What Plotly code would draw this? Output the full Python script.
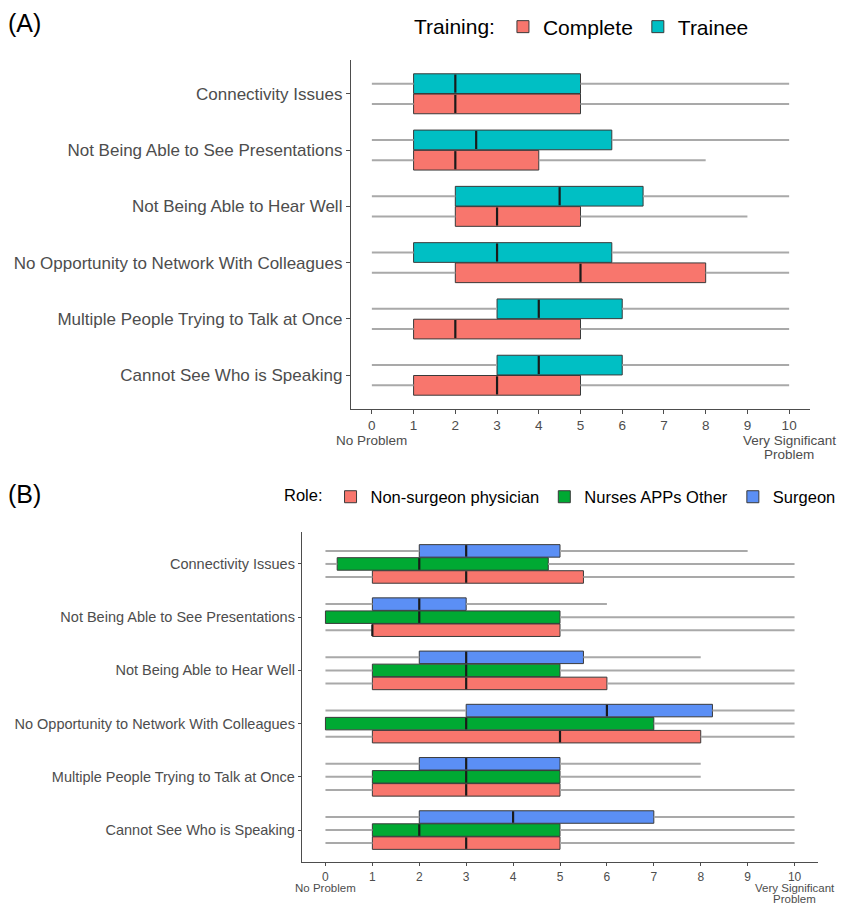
import plotly.graph_objects as go

categories = [
    "Connectivity Issues",
    "Not Being Able to See Presentations",
    "Not Being Able to Hear Well",
    "No Opportunity to Network With Colleagues",
    "Multiple People Trying to Talk at Once",
    "Cannot See Who is Speaking",
]

# Panel A (Training) - five-number summaries per category
a_complete_min = [0, 0, 0, 0, 0, 0]
a_complete_q1 = [1, 1, 2, 2, 1, 1]
a_complete_med = [2, 2, 3, 5, 2, 3]
a_complete_q3 = [5, 4, 5, 8, 5, 5]
a_complete_max = [10, 8, 9, 10, 10, 10]

a_trainee_min = [0, 0, 0, 0, 0, 0]
a_trainee_q1 = [1, 1, 2, 1, 3, 3]
a_trainee_med = [2, 2.5, 4.5, 3, 4, 4]
a_trainee_q3 = [5, 5.75, 6.5, 5.75, 6, 6]
a_trainee_max = [10, 10, 10, 10, 10, 10]

# Panel B (Role)
b_nonsurg_min = [0, 0, 0, 0, 0, 0]
b_nonsurg_q1 = [1, 1, 1, 1, 1, 1]
b_nonsurg_med = [3, 1, 3, 5, 3, 3]
b_nonsurg_q3 = [5.5, 5, 6, 8, 5, 5]
b_nonsurg_max = [10, 10, 10, 10, 10, 10]

b_nurses_min = [0, 0, 0, 0, 0, 0]
b_nurses_q1 = [0.25, 0, 1, 0, 1, 1]
b_nurses_med = [2, 2, 3, 3, 3, 2]
b_nurses_q3 = [4.75, 5, 5, 7, 5, 5]
b_nurses_max = [10, 10, 10, 10, 8, 10]

b_surgeon_min = [0, 0, 0, 0, 0, 0]
b_surgeon_q1 = [2, 1, 2, 3, 2, 2]
b_surgeon_med = [3, 2, 3, 6, 3, 4]
b_surgeon_q3 = [5, 3, 5.5, 8.25, 5, 7]
b_surgeon_max = [9, 6, 8, 10, 8, 10]

x_ticks = [0, 1, 2, 3, 4, 5, 6, 7, 8, 9, 10]
x_ticktext = ["0", "1", "2", "3", "4", "5", "6", "7", "8", "9", "10"]
scale_low_label = ["No Problem"]
scale_high_label = ["Very Significant", "Problem"]

FONT = "Liberation Sans, Arial, sans-serif"
n = len(categories)
centers = [n - 1 - i for i in range(n)]  # top category highest

fig = go.Figure()


def add_group(xa, ya, offset, width, mn, q1, med, q3, mx, color, name, legend):
    ys = [c + offset for c in centers]
    # whiskers (outside the box)
    wx, wy = [], []
    for y, a, b, c, d in zip(ys, mn, q1, q3, mx):
        wx += [a, b, None, c, d, None]
        wy += [y, y, None, y, y, None]
    fig.add_trace(go.Scatter(x=wx, y=wy, mode="lines", xaxis=xa, yaxis=ya,
                             line=dict(color="#a9a9a9", width=2),
                             showlegend=False, hoverinfo="skip"))
    fig.add_trace(go.Bar(y=ys, x=[b - a for a, b in zip(q1, q3)], base=q1,
                         orientation="h", width=width, xaxis=xa, yaxis=ya,
                         marker=dict(color=color, line=dict(color="#3a3a3a", width=1)),
                         name=name, legend=legend))
    # median segments spanning the box height
    mx_, my_ = [], []
    h = width / 2 * 0.92
    for y, m in zip(ys, med):
        mx_ += [m, m, None]
        my_ += [y - h, y + h, None]
    fig.add_trace(go.Scatter(x=mx_, y=my_, mode="lines", xaxis=xa, yaxis=ya,
                             line=dict(color="#1a1a1a", width=2.2),
                             showlegend=False, hoverinfo="skip"))


# Panel A
add_group("x", "y", -0.18, 0.35, a_complete_min, a_complete_q1, a_complete_med,
          a_complete_q3, a_complete_max, "#F8766D", "Complete", "legend")
add_group("x", "y", 0.18, 0.35, a_trainee_min, a_trainee_q1, a_trainee_med,
          a_trainee_q3, a_trainee_max, "#00BFC4", "Trainee", "legend")

# Panel B
add_group("x2", "y2", -0.245, 0.235, b_nonsurg_min, b_nonsurg_q1, b_nonsurg_med,
          b_nonsurg_q3, b_nonsurg_max, "#F8766D", "Non-surgeon physician", "legend2")
add_group("x2", "y2", 0.0, 0.235, b_nurses_min, b_nurses_q1, b_nurses_med,
          b_nurses_q3, b_nurses_max, "#00A933", "Nurses APPs Other", "legend2")
add_group("x2", "y2", 0.245, 0.235, b_surgeon_min, b_surgeon_q1, b_surgeon_med,
          b_surgeon_q3, b_surgeon_max, "#5B8FF5", "Surgeon", "legend2")

W, H = 843, 906


def xdom(l, r):
    return [l / W, r / W]


def ydom(t, b):
    return [1 - b / H, 1 - t / H]


def py(y):
    return 1 - y / H


axis_common = dict(showgrid=False, zeroline=False, showline=True, linecolor="#4d4d4d",
                   linewidth=1.3, ticks="outside", tickcolor="#4d4d4d",
                   mirror=False, automargin=False, tickangle=0)

annotations = [
    dict(text="(A)", x=6 / W, y=py(23), xref="paper", yref="paper",
         xanchor="left", yanchor="middle", showarrow=False,
         font=dict(size=25, color="black")),
    dict(text="(B)", x=6 / W, y=py(494), xref="paper", yref="paper",
         xanchor="left", yanchor="middle", showarrow=False,
         font=dict(size=25, color="black")),
]

# secondary scale labels under the end ticks
for xr, size, rows in (("x", 13.5, (440, 454)), ("x2", 11.5, (888, 899))):
    annotations.append(dict(text=scale_low_label[0], x=x_ticks[0], xref=xr, y=py(rows[0]),
                            yref="paper", xanchor="center", yanchor="middle",
                            showarrow=False, font=dict(size=size, color="#4d4d4d")))
    for txt, yy in zip(scale_high_label, rows):
        annotations.append(dict(text=txt, x=x_ticks[-1], xref=xr, y=py(yy),
                                yref="paper", xanchor="center", yanchor="middle",
                                showarrow=False, font=dict(size=size, color="#4d4d4d")))

fig.update_layout(
    width=W, height=H,
    margin=dict(l=0, r=0, t=0, b=0),
    plot_bgcolor="white", paper_bgcolor="white",
    barmode="overlay",
    font=dict(family=FONT, color="#4d4d4d"),
    xaxis=dict(domain=xdom(351, 810), range=[-0.5, 10.5], tickvals=x_ticks,
               ticktext=x_ticktext, tickfont=dict(size=13.5, color="#4d4d4d"),
               ticklen=4, anchor="y", **axis_common),
    yaxis=dict(domain=ydom(60, 409), range=[-0.6, n - 0.4], tickvals=centers,
               ticktext=categories, tickfont=dict(size=17, color="#4d4d4d"),
               ticklen=4, anchor="x", **axis_common),
    xaxis2=dict(domain=xdom(302, 818), range=[-0.5, 10.5], tickvals=x_ticks,
                ticktext=x_ticktext, tickfont=dict(size=12, color="#4d4d4d"),
                ticklen=3, anchor="y2", **axis_common),
    yaxis2=dict(domain=ydom(532, 862), range=[-0.6, n - 0.4], tickvals=centers,
                ticktext=categories, tickfont=dict(size=14.5, color="#4d4d4d"),
                ticklen=3, anchor="x2", **axis_common),
    legend=dict(orientation="h", x=412 / W, xanchor="left", y=py(27), yanchor="middle",
                title=dict(text="Training:", font=dict(size=21, color="black"), side="left"),
                font=dict(size=21, color="black"), bgcolor="rgba(0,0,0,0)",
                traceorder="normal"),
    legend2=dict(orientation="h", x=841 / W, xanchor="right", y=py(497), yanchor="middle",
                 title=dict(text="Role:", font=dict(size=16.5, color="black"), side="left"),
                 font=dict(size=16.5, color="black"), bgcolor="rgba(0,0,0,0)",
                 traceorder="normal"),
    annotations=annotations,
)

fig.write_html("out.html", config={"displayModeBar": False},
               post_script="document.body.style.margin='0';")
